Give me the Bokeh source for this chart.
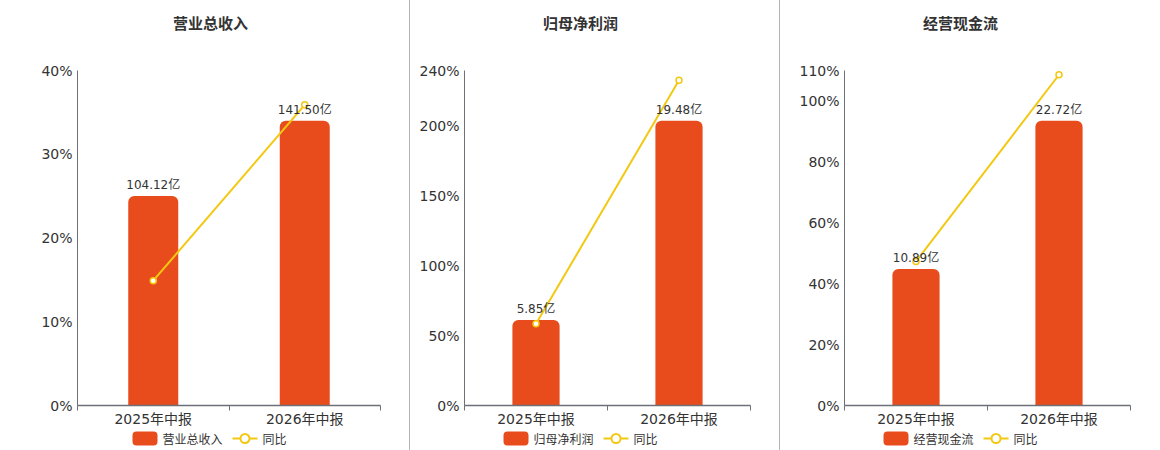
from bokeh.plotting import figure
from bokeh.layouts import row, column
from bokeh.models import (Range1d, LinearAxis, FixedTicker, PrintfTickFormatter, ColumnDataSource,
                          LabelSet, Label)
from bokeh.core.properties import value
from bokeh.embed import file_html
from bokeh.resources import INLINE

# ---------------- data ----------------
categories = ["2025年中报", "2026年中报"]

titles = ["营业总收入", "归母净利润", "经营现金流"]

revenue_values = [104.12, 141.50]          # 亿
revenue_yoy = [14.9, 35.9]                 # %
profit_values = [5.85, 19.48]
profit_yoy = [58.5, 233.0]
cashflow_values = [10.89, 22.72]
cashflow_yoy = [47.3, 108.6]

revenue_ticks = [0, 10, 20, 30, 40]
profit_ticks = [0, 50, 100, 150, 200, 240]
cashflow_ticks = [0, 20, 40, 60, 80, 100, 110]

yoy_label = "同比"
unit = "亿"

# ---------------- style ----------------
BAR_COLOR = "#e84c1d"
LINE_COLOR = "#f2c811"
AXIS_COLOR = "#6e7079"
GRID_COLOR = "#e0e6f1"
TEXT_COLOR = "#333333"
FONT = "'DejaVu Sans', 'Noto Sans CJK SC'"
CJK_FONT = "'Noto Sans CJK SC'"

TITLE_H = 44
MAIN_TOP = 26
FRAME_H = 335
MAIN_BOTTOM = 24
MAIN_H = MAIN_TOP + FRAME_H + MAIN_BOTTOM
LEGEND_H = 21

# legend geometry (pixels)
SW_W, SW_H = 25, 14
LEG_FS = 12
LEG_GAP = 6
LEG_SPACING = 10
LEG_Y = 12

# positions below are relative to each chart's plotting frame
panels = [
    dict(title=titles[0], values=revenue_values, yoy=revenue_yoy, ticks=revenue_ticks,
         width=410, left=77, right=30, title_x=133, legend_x=55, sep=False),
    dict(title=titles[1], values=profit_values, yoy=profit_yoy, ticks=profit_ticks,
         width=370, left=54, right=30, title_x=116, legend_x=39, sep=True),
    dict(title=titles[2], values=cashflow_values, yoy=cashflow_yoy, ticks=cashflow_ticks,
         width=370, left=64, right=20, title_x=116, legend_x=39, sep=True),
]


def blank_fig(w, h, left, right):
    f = figure(width=w, height=h, output_backend="svg", toolbar_location=None, title=None,
               x_range=Range1d(0, w - left - right), y_range=Range1d(0, h),
               min_border=0, min_border_left=left, min_border_right=right,
               x_axis_type=None, y_axis_type=None)
    f.outline_line_color = None
    f.xgrid.visible = False
    f.ygrid.visible = False
    return f


def make_panel(cfg):
    n = len(categories)
    xs = [i + 0.5 for i in range(n)]
    ymax = cfg["ticks"][-1]
    bar_max = max(cfg["values"]) / 0.85
    w = cfg["width"]

    # ---- title strip ----
    tf = blank_fig(w, TITLE_H, cfg["left"], cfg["right"])
    tf.add_layout(Label(x=cfg["title_x"], y=TITLE_H / 2, x_units="screen", y_units="screen",
                        text=cfg["title"], text_align="center", text_baseline="middle",
                        text_font=CJK_FONT, text_font_size="15px", text_font_style="bold",
                        text_color=TEXT_COLOR))

    # ---- main chart ----
    p = figure(width=w, height=MAIN_H, output_backend="svg", toolbar_location=None,
               title=None, x_range=Range1d(0, n), y_range=Range1d(0, ymax),
               min_border_left=cfg["left"], min_border_right=cfg["right"],
               min_border_top=MAIN_TOP, min_border_bottom=MAIN_BOTTOM,
               x_axis_type=None, y_axis_type=None)
    p.outline_line_color = None
    p.extra_y_ranges = {"bar": Range1d(0, bar_max)}

    xaxis = LinearAxis(ticker=FixedTicker(ticks=xs, minor_ticks=list(range(n + 1))))
    xaxis.major_label_overrides = {x: c for x, c in zip(xs, categories)}
    xaxis.major_tick_line_color = None
    xaxis.major_tick_out = 0
    xaxis.minor_tick_out = 5
    xaxis.minor_tick_in = 0
    xaxis.minor_tick_line_color = AXIS_COLOR
    xaxis.minor_tick_line_width = 1
    xaxis.axis_line_color = AXIS_COLOR
    xaxis.axis_line_width = 1.7
    xaxis.major_label_standoff = 0
    xaxis.major_label_text_font = FONT
    xaxis.major_label_text_font_size = "14px"
    xaxis.major_label_text_color = TEXT_COLOR
    p.add_layout(xaxis, "below")

    yaxis = LinearAxis(ticker=FixedTicker(ticks=cfg["ticks"]),
                       formatter=PrintfTickFormatter(format="%d%%"))
    yaxis.major_tick_line_color = None
    yaxis.minor_tick_line_color = None
    yaxis.major_tick_out = 0
    yaxis.axis_line_color = AXIS_COLOR
    yaxis.axis_line_width = 1
    yaxis.major_label_standoff = 5
    yaxis.major_label_text_font = FONT
    yaxis.major_label_text_font_size = "14px"
    yaxis.major_label_text_color = TEXT_COLOR
    p.add_layout(yaxis, "left")

    p.ygrid.ticker = FixedTicker(ticks=cfg["ticks"])
    p.ygrid.grid_line_color = GRID_COLOR
    p.ygrid.grid_line_width = 1
    p.xgrid.visible = False

    bsrc = ColumnDataSource(dict(x=xs, v=cfg["values"],
                                 t=[f"{v:.2f}{unit}" for v in cfg["values"]]))
    p.vbar(x="x", top="v", width=0.33, source=bsrc, y_range_name="bar",
           fill_color=BAR_COLOR, line_color=None, border_radius=(6, 6, 0, 0))
    p.add_layout(LabelSet(x="x", y="v", text="t", source=bsrc, y_range_name="bar",
                          text_align="center", text_baseline="bottom", y_offset=4,
                          text_font=value(FONT), text_font_size=value("12px"),
                          text_color=TEXT_COLOR))

    lsrc = ColumnDataSource(dict(x=xs, y=cfg["yoy"]))
    p.line("x", "y", source=lsrc, line_color=LINE_COLOR, line_width=2)
    p.scatter("x", "y", source=lsrc, size=6, marker="circle",
              fill_color="white", line_color=LINE_COLOR, line_width=1.5)

    # ---- legend strip (frame units = pixels) ----
    lf = blank_fig(w, LEGEND_H, cfg["left"], cfg["right"])
    x0 = cfg["legend_x"]
    t1_x = x0 + SW_W + LEG_GAP - 1
    l_x0 = t1_x + len(cfg["title"]) * LEG_FS + LEG_SPACING
    l_x1 = l_x0 + SW_W
    t2_x = l_x1 + LEG_GAP - 1
    lf.quad(left=[x0], right=[x0 + SW_W], bottom=[LEG_Y - SW_H / 2], top=[LEG_Y + SW_H / 2],
            fill_color=BAR_COLOR, line_color=None, border_radius=4)
    lf.segment(x0=[l_x0], y0=[LEG_Y], x1=[l_x1], y1=[LEG_Y],
               line_color=LINE_COLOR, line_width=2)
    lf.scatter(x=[(l_x0 + l_x1) / 2], y=[LEG_Y], size=9, marker="circle",
               fill_color="white", line_color=LINE_COLOR, line_width=2)
    lf.text(x=[t1_x, t2_x], y=[LEG_Y, LEG_Y], text=[cfg["title"], yoy_label],
            text_align="left", text_baseline="middle", text_font=value(CJK_FONT),
            text_font_size=value(f"{LEG_FS}px"), text_color=TEXT_COLOR)

    col = column(tf, p, lf, spacing=0)
    if cfg["sep"]:
        col.styles = {"box-shadow": "-1px 0 0 #b4b4b4"}
    return col


cols = [make_panel(c) for c in panels]
layout = row(*cols, spacing=0)

open("out.html", "w").write(file_html(layout, INLINE))
